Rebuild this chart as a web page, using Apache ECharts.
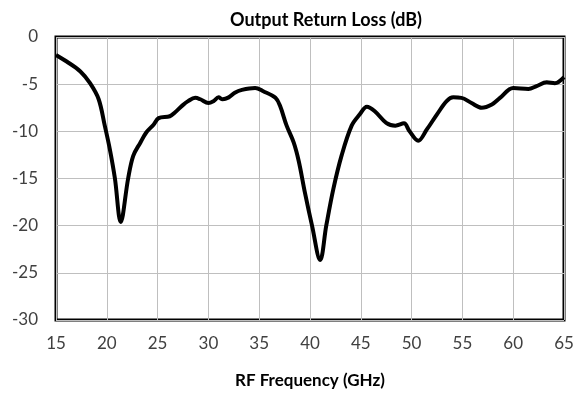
<!DOCTYPE html>
<html><head><meta charset="utf-8">
<script src="https://cdn.jsdelivr.net/npm/echarts@6/dist/echarts.min.js"></script>
<style>html,body{margin:0;padding:0;background:#fff}#c{width:586px;height:394px}</style>
</head><body><div id="c"></div>
<script>
const freqGHz = [15,16.05,17.4,18.35,19.2,19.8,20.3,20.8,21.37,22.1,22.6,23.3,23.9,24.6,25.1,26.2,26.7,27.4,28.0,28.7,29.2,30.0,30.5,31.0,31.4,32.0,32.6,33.3,34.6,35.4,36.6,37.05,37.7,38.4,38.9,39.5,40.2,41.0,41.6,42.3,43.1,44.1,44.9,45.6,46.4,47.5,48.4,49.25,49.8,50.65,51.5,52.5,53.45,54.1,54.9,55.9,56.9,57.9,58.7,60.0,61.5,62.3,63.3,64.1,65];
const returnLossDb = [-1.9,-2.6,-3.65,-4.9,-6.6,-9.4,-11.9,-15,-19.6,-15,-12.6,-11.2,-10.1,-9.3,-8.6,-8.4,-8.0,-7.3,-6.8,-6.45,-6.6,-7.0,-6.8,-6.4,-6.6,-6.4,-5.9,-5.6,-5.4,-5.75,-6.45,-7.3,-9.4,-11.2,-13.2,-16.5,-20,-23.65,-20,-16.1,-12.6,-9.4,-8.2,-7.4,-7.9,-9.1,-9.4,-9.15,-10.0,-11.0,-9.8,-8.2,-6.8,-6.4,-6.45,-7.0,-7.5,-7.15,-6.45,-5.4,-5.5,-5.2,-4.8,-4.9,-4.25];
const xTicks = {min:15, max:65, step:5};
const yTicks = {min:-30, max:0, step:5};
const title = 'Output Return Loss (dB)';
const xName = 'RF Frequency (GHz)';

const font = 'Lato, "Open Sans", sans-serif';
const chart = echarts.init(document.getElementById('c'), null, {renderer:'canvas'});
chart.setOption({
  animation:false,
  backgroundColor:'#fff',
  title:{text:title,left:321,textAlign:'center',top:6,textStyle:{fontFamily:font,fontSize:18,fontWeight:'bold',color:'#000'}},
  grid:{left:56,top:37,width:508,height:285,show:true,borderColor:'#000',borderWidth:3,backgroundColor:'transparent'},
  xAxis:{type:'value',min:xTicks.min,max:xTicks.max,interval:xTicks.step,
    name:xName,nameLocation:'middle',nameGap:52,
    nameTextStyle:{fontFamily:font,fontSize:17,fontWeight:'bold',color:'#000'},
    axisLine:{show:false},axisTick:{show:false},
    axisLabel:{fontFamily:font,fontSize:17,color:'#404040',margin:15},
    splitLine:{show:true,lineStyle:{color:'#bfbfbf',width:1}}},
  yAxis:{type:'value',min:yTicks.min,max:yTicks.max,interval:yTicks.step,
    axisLine:{show:false},axisTick:{show:false},
    axisLabel:{fontFamily:font,fontSize:17,color:'#404040',margin:18},
    splitLine:{show:true,lineStyle:{color:'#bfbfbf',width:1}}},
  series:[{type:'line',data:freqGHz.map((f,i)=>[f,returnLossDb[i]]),smooth:0.35,showSymbol:false,
    lineStyle:{color:'#000',width:4},clip:true}]
});
</script></body></html>
